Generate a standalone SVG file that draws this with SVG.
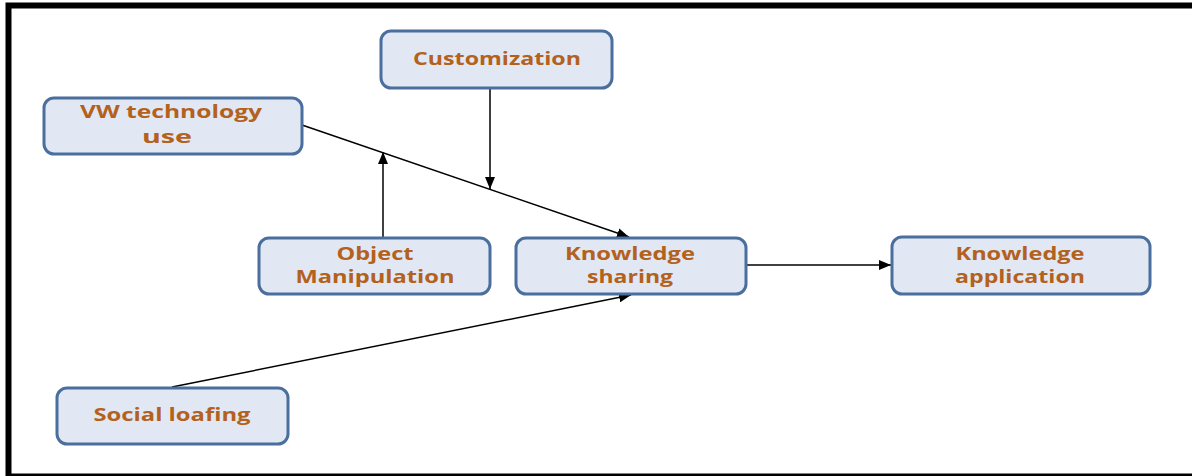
<svg xmlns="http://www.w3.org/2000/svg" width="1192" height="476" viewBox="0 0 1192 476">
  <style>
    .box { fill: #e1e8f3; stroke: #4a6f9e; stroke-width: 3; }
    .lbl { font-family: "Open Sans", "Noto Sans", "Liberation Sans", sans-serif; font-weight: 700; font-size: 18.5px; fill: #b3611c; text-anchor: middle; }
    .edge { stroke: #000; stroke-width: 1.5; fill: none; marker-end: url(#arrow); }
  </style>
  <defs>
    <marker id="arrow" markerUnits="userSpaceOnUse" markerWidth="12" markerHeight="10" refX="12" refY="5" orient="auto">
      <path d="M0,0 L12,5 L0,10 Z" fill="#000"/>
    </marker>
  </defs>

  <rect x="0" y="0" width="1192" height="476" fill="#fff"/>
  <!-- outer frame -->
  <rect x="8.5" y="5.5" width="1190" height="471" fill="none" stroke="#000" stroke-width="6"/>

  <g id="connectors">
    <line class="edge" x1="302" y1="125" x2="629" y2="237"/>
    <line class="edge" x1="490" y1="88" x2="490" y2="189"/>
    <line class="edge" x1="383" y1="237" x2="383" y2="152"/>
    <line class="edge" x1="172" y1="387" x2="631" y2="295"/>
    <line class="edge" x1="747" y1="265" x2="891" y2="265"/>
  </g>

  <g id="customization">
    <rect class="box" x="381" y="31" width="231" height="57" rx="10"/>
    <text class="lbl" x="497" y="65" textLength="168" lengthAdjust="spacingAndGlyphs">Customization</text>
  </g>

  <g id="vw-technology-use">
    <rect class="box" x="44" y="98" width="258" height="56" rx="10"/>
    <text class="lbl" x="171" y="118" textLength="182" lengthAdjust="spacingAndGlyphs">VW technology</text>
    <text class="lbl" x="167" y="143" textLength="50" lengthAdjust="spacingAndGlyphs">use</text>
  </g>

  <g id="object-manipulation">
    <rect class="box" x="259" y="238" width="231" height="56" rx="10"/>
    <text class="lbl" x="375" y="260" textLength="77" lengthAdjust="spacingAndGlyphs">Object</text>
    <text class="lbl" x="375" y="283" textLength="159" lengthAdjust="spacingAndGlyphs">Manipulation</text>
  </g>

  <g id="knowledge-sharing">
    <rect class="box" x="516" y="238" width="230" height="56" rx="10"/>
    <text class="lbl" x="630" y="260" textLength="130" lengthAdjust="spacingAndGlyphs">Knowledge</text>
    <text class="lbl" x="630" y="283" textLength="86" lengthAdjust="spacingAndGlyphs">sharing</text>
  </g>

  <g id="knowledge-application">
    <rect class="box" x="892" y="237" width="258" height="57" rx="10"/>
    <text class="lbl" x="1020" y="260" textLength="129" lengthAdjust="spacingAndGlyphs">Knowledge</text>
    <text class="lbl" x="1020" y="283" textLength="130" lengthAdjust="spacingAndGlyphs">application</text>
  </g>

  <g id="social-loafing">
    <rect class="box" x="57" y="388" width="231" height="56" rx="10"/>
    <text class="lbl" x="172" y="421" textLength="157" lengthAdjust="spacingAndGlyphs">Social loafing</text>
  </g>
</svg>
